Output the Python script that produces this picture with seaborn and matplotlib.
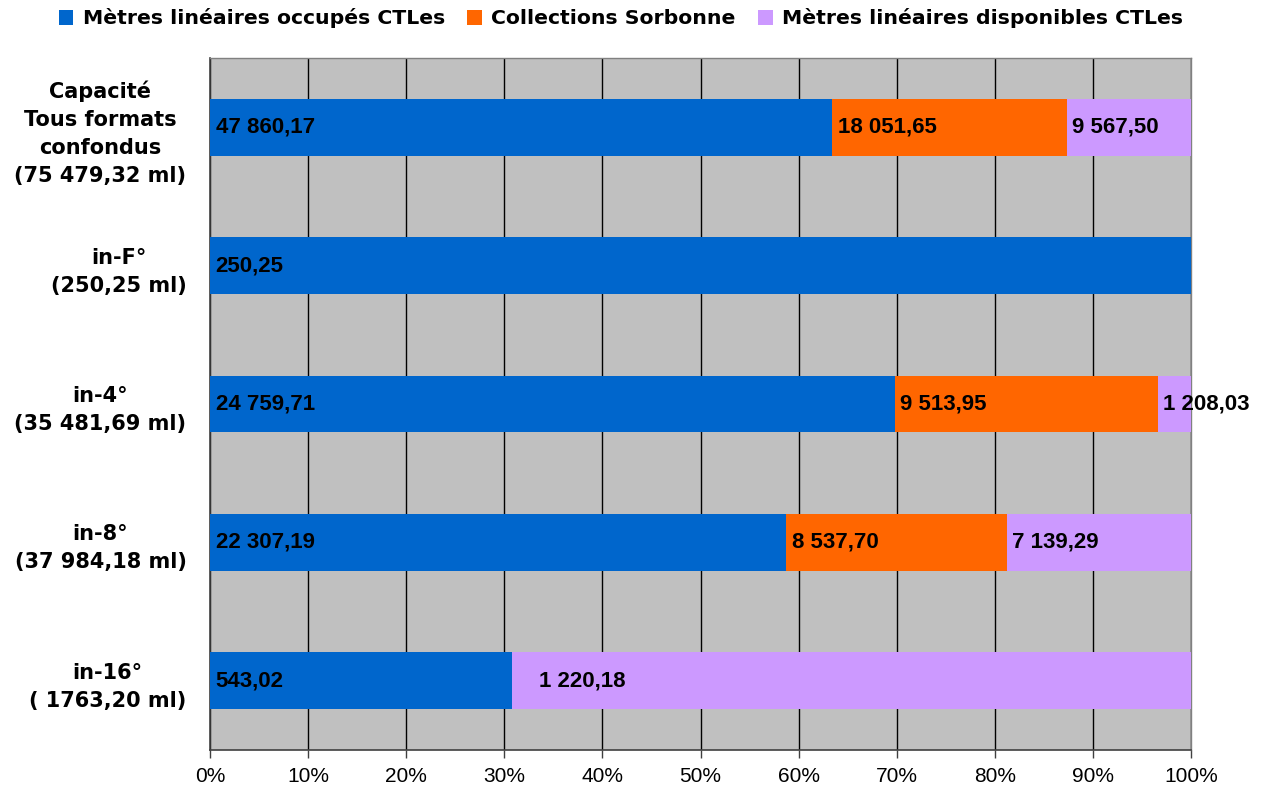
import numpy as np
import pandas as pd
import matplotlib.pyplot as plt
import seaborn as sns
from matplotlib.patches import Patch

categories = ['Capacité\nTous formats\nconfondus\n(75 479,32 ml)',
              'in-F°\n(250,25 ml)',
              'in-4°\n(35 481,69 ml)',
              'in-8°\n(37 984,18 ml)',
              'in-16°\n( 1763,20 ml)']
occupes = [47860.17, 250.25, 24759.71, 22307.19, 543.02]
sorbonne = [18051.65, 0, 9513.95, 8537.70, 0]
disponibles = [9567.50, 0, 1208.03, 7139.29, 1220.18]
series_names = ['Mètres linéaires occupés CTLes', 'Collections Sorbonne',
                'Mètres linéaires disponibles CTLes']
colors = ['#0066CC', '#FF6600', '#CC99FF']


def fmt(v):
    return f"{v:,.2f}".replace(",", " ").replace(".", ",")


df = pd.DataFrame({'cat': categories, 'a': occupes, 'b': sorbonne, 'c': disponibles})
total = df[['a', 'b', 'c']].sum(axis=1)
df['cum_a'] = df['a'] / total * 100
df['cum_b'] = (df['a'] + df['b']) / total * 100
df['cum_c'] = (df['a'] + df['b'] + df['c']) / total * 100

sns.set_style('white')
plt.rcParams['text.color'] = 'black'
plt.rcParams['xtick.color'] = 'black'
plt.rcParams['ytick.color'] = 'black'
plt.rcParams['xtick.labelcolor'] = 'black'
plt.rcParams['ytick.labelcolor'] = 'black'

fig = plt.figure(figsize=(12.66, 8.01), dpi=100)
ax = fig.add_axes([210 / 1266, 1 - 750 / 801, 981 / 1266, 692 / 801])
ax.set_facecolor('#C0C0C0')

# stacked via cumulative totals, drawn back to front
for col, c in [('cum_c', colors[2]), ('cum_b', colors[1]), ('cum_a', colors[0])]:
    sns.barplot(data=df, x=col, y='cat', color=c, width=0.41, ax=ax,
                saturation=1, linewidth=0, zorder=3)

ax.set_xlim(0, 100)
ax.set_ylim(4.5, -0.5)
ax.set_xticks(np.arange(0, 101, 10))
ax.set_xticklabels([f"{t}%" for t in range(0, 101, 10)], fontsize=15,
                   family='Liberation Sans')
ax.grid(axis='x', color='black', linewidth=1, zorder=0)
ax.set_axisbelow(True)
ax.set_xlabel('')
ax.set_ylabel('')

ax.set_yticks(range(len(categories)))
ax.set_yticklabels(categories, fontsize=15, fontweight='bold', family='DejaVu Sans',
                   multialignment='center', linespacing=1.5)
ax.set_yticks(np.arange(-0.5, len(categories), 1), minor=True)
ax.tick_params(axis='y', which='major', length=0, pad=17)
ax.tick_params(axis='y', which='minor', length=7, width=1, color='#404040', direction='out')
ax.tick_params(axis='x', which='major', length=6, width=1, color='#404040', direction='out',
               pad=6, bottom=True)

for s in ['left', 'bottom']:
    ax.spines[s].set_color('#404040')
    ax.spines[s].set_linewidth(1.2)
for s in ['top', 'right']:
    ax.spines[s].set_color('#808080')
    ax.spines[s].set_linewidth(1)

# value labels at the base of each segment
for i, row in df.iterrows():
    starts = [0, row['cum_a'], row['cum_b']]
    vals = [row['a'], row['b'], row['c']]
    for j, (s, v) in enumerate(zip(starts, vals)):
        if v > 0:
            # the in-16° free-space label sits further in, as in the original
            pad = 19 if (i == 4 and j == 2) else 4
            ax.annotate(fmt(v), xy=(s, i), xytext=(pad, 0), textcoords='offset points',
                        ha='left', va='center', fontsize=16, fontweight='bold',
                        family='Liberation Sans', color='black', zorder=5,
                        annotation_clip=False)

handles = [Patch(facecolor=c, edgecolor='none') for c in colors]
fig.legend(handles, series_names, loc='center', bbox_to_anchor=(0.4905, 0.977), ncol=3,
           frameon=False, handlelength=0.73, handleheight=0.73, handletextpad=0.45,
           columnspacing=1.1, labelcolor='black',
           prop={'family': 'DejaVu Sans', 'weight': 'bold', 'size': 14.7})

fig.savefig('out.png', dpi=100)
